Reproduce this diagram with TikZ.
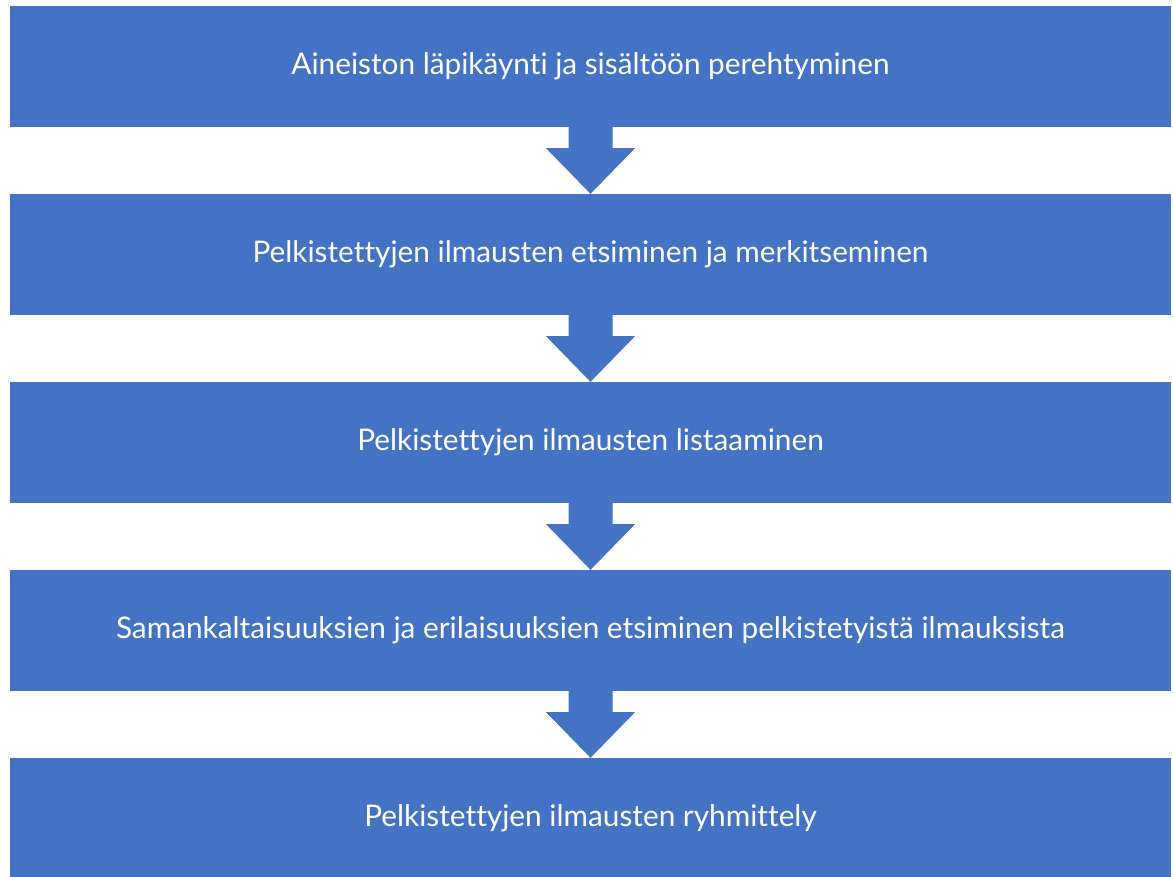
\documentclass[tikz,border=0pt]{standalone}
\usepackage{fontspec}
\setmainfont{Lato}[Ligatures={NoCommon}]
\usetikzlibrary{calc}
\definecolor{boxblue}{HTML}{4472C4}
\newlength\mylen
\begin{document}
\settowidth\mylen{\fontsize{10}{12}\selectfont Samankaltaisuuksien ja erilaisuuksien etsiminen pelkistetyistä ilmauksista}
\pgfmathsetmacro\fs{10*949/\mylen}
\begin{tikzpicture}[x=1pt,y=-1pt,
  stepbox/.style={fill=boxblue, draw=none, minimum width=1161pt, minimum height=121pt, inner sep=0pt, text=white, font=\fontsize{\fs}{\fs}\selectfont},
  arrowfill/.style={fill=boxblue, draw=none}]
\useasboundingbox (0,0) rectangle (1173,877);
\fill[white] (0,0) rectangle (1173,877);
\node[stepbox] (b1) at (590.5,66.5) {Aineiston läpikäynti ja sisältöön perehtyminen};
\node[stepbox] (b2) at (590.5,254.5) {Pelkistettyjen ilmausten etsiminen ja merkitseminen};
\node[stepbox] (b3) at (590.5,442.5) {Pelkistettyjen ilmausten listaaminen};
\node[stepbox] (b4) at (590.5,630.5) {Samankaltaisuuksien ja erilaisuuksien etsiminen pelkistetyistä ilmauksista};
\node[stepbox] (b5) at (590.5,818.5) {Pelkistettyjen ilmausten ryhmittely};
\foreach \a/\b in {b1/b2, b2/b3, b3/b4, b4/b5}{
  \fill[arrowfill] ($(\a.south)+(-22,0)$) -- ($(\a.south)+(-22,21)$) -- ($(\a.south)+(-44.5,21)$)
    -- (\b.north) -- ($(\a.south)+(44.5,21)$) -- ($(\a.south)+(22,21)$) -- ($(\a.south)+(22,0)$) -- cycle;
}
\end{tikzpicture}
\end{document}
